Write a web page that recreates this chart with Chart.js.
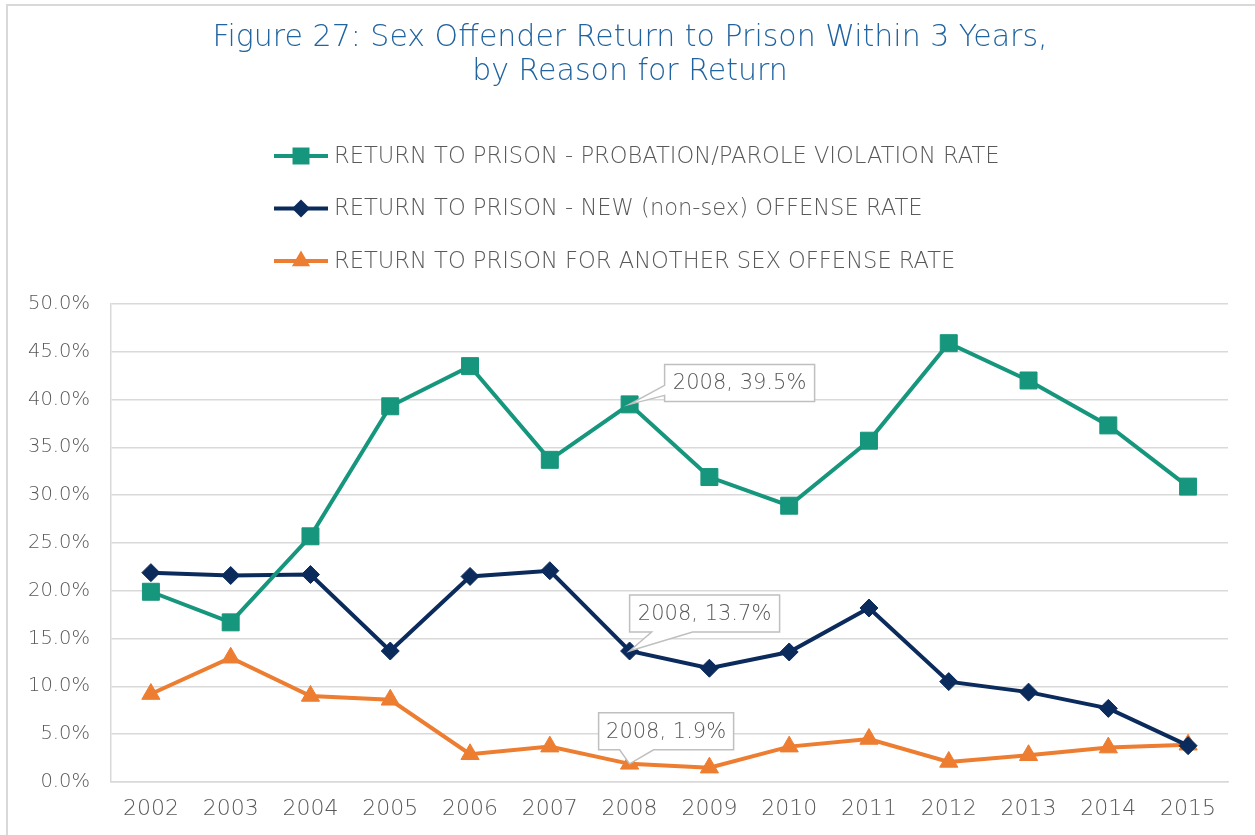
<!DOCTYPE html>
<html>
<head>
<meta charset="utf-8">
<script src="https://cdn.jsdelivr.net/npm/chart.js@4.4.1/dist/chart.umd.min.js"></script>
<style>
  html, body { margin: 0; padding: 0; background: #fff; }
  #wrap { position: relative; width: 1255px; height: 835px; overflow: hidden; }
  #frame { position: absolute; left: 6px; top: 4px; width: 1300px; height: 900px;
           border-left: 2px solid #d9d9d9; border-top: 2px solid #d9d9d9; }
  canvas { position: absolute; left: 0; top: 0; }
</style>
</head>
<body>
<div id="wrap">
  <div id="frame"></div>
  <canvas id="chart" width="1255" height="835"></canvas>
</div>
<script>
// dados
const years = ["2002", "2003", "2004", "2005", "2006", "2007", "2008",
               "2009", "2010", "2011", "2012", "2013", "2014", "2015"];
const violationRate = [19.9, 16.7, 25.7, 39.3, 43.5, 33.7, 39.5, 31.9, 28.9, 35.7, 45.9, 42.0, 37.3, 30.9];
const newOffenseRate = [21.9, 21.6, 21.7, 13.7, 21.5, 22.1, 13.7, 11.9, 13.6, 18.2, 10.5, 9.4, 7.7, 3.8];
const sexOffenseRate = [9.2, 13.0, 9.0, 8.6, 2.9, 3.7, 1.9, 1.5, 3.7, 4.5, 2.1, 2.8, 3.6, 3.9];
const seriesNames = [
  "RETURN TO PRISON - PROBATION/PAROLE VIOLATION RATE",
  "RETURN TO PRISON - NEW (non-sex) OFFENSE RATE",
  "RETURN TO PRISON FOR ANOTHER SEX OFFENSE RATE"
];
const titleLines = ["Figure 27: Sex Offender Return to Prison Within 3 Years,", "by Reason for Return"];

const FONT = '"DejaVu Sans", sans-serif';
const GRAY = "#595959";
const GRID = "#d9d9d9";

// desenha um marcador
function marker(ctx, style, x, y, r) {
  ctx.beginPath();
  if (style === "rect") {
    const s = r * Math.SQRT1_2;
    ctx.rect(x - s, y - s, 2 * s, 2 * s);
  } else if (style === "rectRot") {
    ctx.moveTo(x - r, y); ctx.lineTo(x, y - r); ctx.lineTo(x + r, y); ctx.lineTo(x, y + r);
    ctx.closePath();
  } else {
    ctx.moveTo(x, y - r);
    ctx.lineTo(x + r * 0.866, y + r / 2);
    ctx.lineTo(x - r * 0.866, y + r / 2);
    ctx.closePath();
  }
  ctx.fill();
}

// título e legenda
const header = {
  id: "header",
  afterDraw(chart) {
    const ctx = chart.ctx;
    ctx.save();
    ctx.textAlign = "center";
    ctx.textBaseline = "middle";
    ctx.fillStyle = "#1f63a0";
    ctx.font = "300 30px " + FONT;
    titleLines.forEach((t, i) => ctx.fillText(t, 630, 38 + i * 34));

    ctx.textAlign = "left";
    ctx.font = "300 22.6px " + FONT;
    chart.data.datasets.forEach((ds, i) => {
      const y = 156 + i * 52.5;
      ctx.strokeStyle = ds.borderColor;
      ctx.lineWidth = 4;
      ctx.beginPath();
      ctx.moveTo(274, y); ctx.lineTo(328, y);
      ctx.stroke();
      ctx.fillStyle = ds.borderColor;
      marker(ctx, ds.pointStyle, 301, y, ds.pointRadius);
      ctx.fillStyle = GRAY;
      ctx.fillText(ds.label, 334, y + 1);
    });
    ctx.restore();
  }
};

// rótulos de dados 2008
const callouts = {
  id: "callouts",
  afterDatasetsDraw(chart, args, opts) {
    const ctx = chart.ctx;
    const xs = chart.scales.x, ys = chart.scales.y;
    ctx.save();
    opts.items.forEach(c => {
      const v = chart.data.datasets[c.ds].data[c.i];
      const px = xs.getPixelForValue(c.i), py = ys.getPixelForValue(v);
      const bx = px + c.dx, by = py + c.dy, w = c.w, h = 37;
      ctx.beginPath();
      ctx.moveTo(bx, by);
      ctx.lineTo(bx + w, by);
      ctx.lineTo(bx + w, by + h);
      if (c.side === "bottom") {
        ctx.lineTo(px + c.b1, by + h);
        ctx.lineTo(px, py);
        ctx.lineTo(px + c.b0, by + h);
        ctx.lineTo(bx, by + h);
      } else {
        ctx.lineTo(bx, by + h);
        ctx.lineTo(bx, py + c.b1);
        ctx.lineTo(px, py);
        ctx.lineTo(bx, py + c.b0);
      }
      ctx.closePath();
      ctx.fillStyle = "#fff";
      ctx.fill();
      ctx.strokeStyle = "#bfbfbf";
      ctx.lineWidth = 1.5;
      ctx.stroke();
      ctx.fillStyle = GRAY;
      ctx.font = "300 21px " + FONT;
      ctx.textAlign = "center";
      ctx.textBaseline = "middle";
      ctx.fillText(years[c.i] + ", " + v.toFixed(1) + "%", bx + w / 2, by + h / 2 + 1);
    });
    ctx.restore();
  }
};

new Chart(document.getElementById("chart"), {
  type: "line",
  data: {
    labels: years,
    datasets: [
      { label: seriesNames[0], data: violationRate, borderColor: "#16967c", backgroundColor: "#16967c",
        pointStyle: "rect", pointRadius: 12 },
      { label: seriesNames[1], data: newOffenseRate, borderColor: "#0b2b5c", backgroundColor: "#0b2b5c",
        pointStyle: "rectRot", pointRadius: 9 },
      { label: seriesNames[2], data: sexOffenseRate, borderColor: "#ed7d31", backgroundColor: "#ed7d31",
        pointStyle: "triangle", pointRadius: 10.5 }
    ].map(d => Object.assign(d, { borderWidth: 4, pointBorderWidth: 1, pointBorderColor: d.borderColor,
                                  tension: 0, fill: false }))
  },
  options: {
    responsive: false,
    animation: false,
    devicePixelRatio: 1,
    layout: { padding: { top: 304, right: 27, left: 0, bottom: 0 } },
    plugins: {
      legend: { display: false },
      title: { display: false },
      tooltip: { enabled: false },
      callouts: {
        items: [
          { ds: 0, i: 6, dx: 35, dy: -40, w: 150, side: "left", b0: -19, b1: -9 },
          { ds: 1, i: 6, dx: 0, dy: -56, w: 150, side: "bottom", b0: 22, b1: 63 },
          { ds: 2, i: 6, dx: -31, dy: -51, w: 135, side: "bottom", b0: -10, b1: 24 }
        ]
      }
    },
    scales: {
      x: {
        offset: true,
        grid: { display: false, drawTicks: false },
        border: { display: true, color: GRID, width: 1.5 },
        ticks: { color: GRAY, font: { family: FONT, size: 22, weight: "300" }, padding: 14, maxRotation: 0 },
        afterFit: s => { s.height = 53; }
      },
      y: {
        min: 0, max: 50,
        grid: { color: GRID, lineWidth: 1.5, drawTicks: false },
        border: { display: true, color: GRID, width: 1.5 },
        ticks: { stepSize: 5, color: GRAY, padding: 21, font: { family: FONT, size: 19.5, weight: "300" },
                 callback: v => v.toFixed(1) + "%" },
        afterFit: s => { s.width = 111; }
      }
    }
  },
  plugins: [header, callouts]
});
</script>
</body>
</html>
